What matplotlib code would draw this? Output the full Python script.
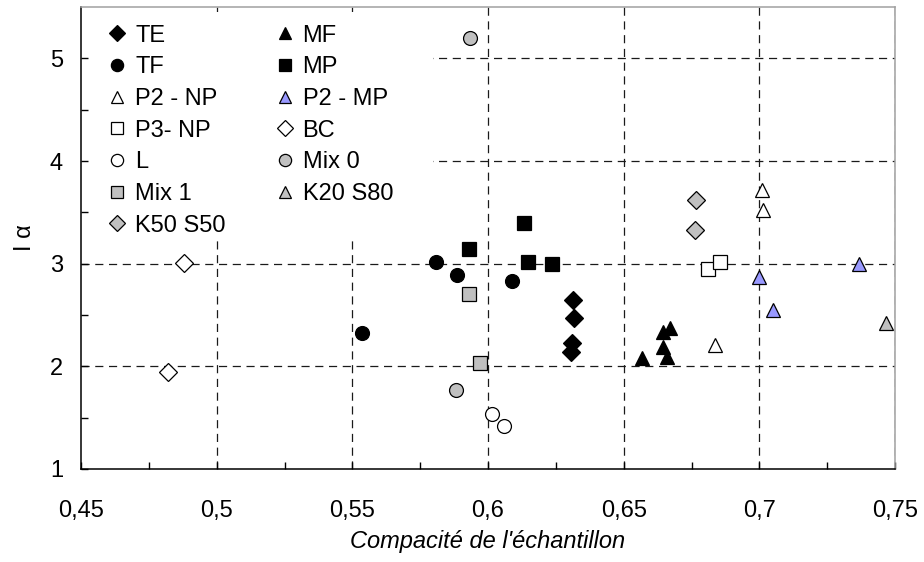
import matplotlib
matplotlib.use("Agg")
import matplotlib.pyplot as plt
from matplotlib.patches import Rectangle

plt.rcParams['font.family'] = ['Liberation Sans', 'DejaVu Sans']

# ---- data ----
te_x = [0.6312, 0.6318, 0.6309, 0.6304]
te_y = [2.65, 2.47, 2.23, 2.14]
tf_x = [0.5809, 0.5887, 0.6090, 0.5536]
tf_y = [3.02, 2.89, 2.835, 2.32]
mf_x = [0.6566, 0.6646, 0.6670, 0.6646, 0.6659]
mf_y = [2.08, 2.33, 2.37, 2.19, 2.09]
mp_x = [0.5930, 0.6134, 0.6146, 0.6234]
mp_y = [3.14, 3.40, 3.02, 3.00]
p2np_x = [0.7010, 0.7012, 0.6837]
p2np_y = [3.72, 3.52, 2.21]
p2mp_x = [0.6999, 0.7366, 0.7049]
p2mp_y = [2.87, 3.00, 2.55]
p3np_x = [0.6810, 0.6855]
p3np_y = [2.95, 3.02]
bc_x = [0.4822, 0.4880]
bc_y = [1.94, 3.01]
l_x = [0.6016, 0.6059]
l_y = [1.54, 1.42]
mix0_x = [0.5934, 0.5883]
mix0_y = [5.20, 1.77]
mix1_x = [0.5931, 0.5970]
mix1_y = [2.70, 2.03]
k20_x = [0.7465]
k20_y = [2.42]
k50_x = [0.6766, 0.6763]
k50_y = [3.62, 3.33]

x_ticks = [0.45, 0.5, 0.55, 0.6, 0.65, 0.7, 0.75]
x_tick_labels = ['0,45', '0,5', '0,55', '0,6', '0,65', '0,7', '0,75']
y_ticks = [1, 2, 3, 4, 5]
y_tick_labels = ['1', '2', '3', '4', '5']

GRAY = '#c0c0c0'
BLUE = '#9999ff'

fig = plt.figure(figsize=(9.24, 5.62), dpi=100)
ax = fig.add_axes([0.0877, 0.1655, 0.881, 0.822])

ax.set_xlim(0.45, 0.75)
ax.set_ylim(1, 5.5)

# dashed grid drawn under a white box that hosts the legend
for v in x_ticks[1:]:
    ax.axvline(v, color='#1a1a1a', lw=0.9, ls=(0, (6.5, 4.5)), zorder=0.5)
for v in y_ticks[1:]:
    ax.axhline(v, color='#1a1a1a', lw=0.9, ls=(0, (6.5, 4.5)), zorder=0.5)
ax.add_patch(Rectangle((0.0, 0.5), 0.432, 0.489, transform=ax.transAxes,
                       facecolor='white', edgecolor='none', zorder=1))

series = [
    ('TE', te_x, te_y, 'D', 'black', 9.3),
    ('TF', tf_x, tf_y, 'o', 'black', 10),
    ('P2 - NP', p2np_x, p2np_y, '^', 'white', 9.5),
    ('P3- NP', p3np_x, p3np_y, 's', 'white', 10),
    ('L', l_x, l_y, 'o', 'white', 10),
    ('Mix 1', mix1_x, mix1_y, 's', GRAY, 10),
    ('K50 S50', k50_x, k50_y, 'D', GRAY, 9.3),
    ('MF', mf_x, mf_y, '^', 'black', 9.5),
    ('MP', mp_x, mp_y, 's', 'black', 10),
    ('P2 - MP', p2mp_x, p2mp_y, '^', BLUE, 9.5),
    ('BC', bc_x, bc_y, 'D', 'white', 9.3),
    ('Mix 0', mix0_x, mix0_y, 'o', GRAY, 10),
    ('K20 S80', k20_x, k20_y, '^', GRAY, 9.5),
]
handles = []
for name, xs, ys, m, fc, ms in series:
    h, = ax.plot(xs, ys, ls='none', marker=m, markersize=ms,
                 markerfacecolor=fc, markeredgecolor='black',
                 markeredgewidth=0.9, label=name, zorder=3)
    handles.append(h)

leg = ax.legend(handles=handles, ncol=2, loc='upper left',
                bbox_to_anchor=(0.0327, 0.962), frameon=False,
                borderpad=0, borderaxespad=0, fontsize=17,
                handlelength=0.8, handletextpad=0.36, columnspacing=2.1,
                labelspacing=0.41, markerscale=0.88)
leg.set_zorder(4)

ax.set_xticks(x_ticks)
ax.set_xticklabels(x_tick_labels)
ax.set_yticks(y_ticks)
ax.set_yticklabels(y_tick_labels)
ax.set_xticks([0.475, 0.525, 0.575, 0.625, 0.675, 0.725], minor=True)
ax.set_yticks([1.5, 2.5, 3.5, 4.5], minor=True)
ax.tick_params(which='both', direction='in', length=5, width=1, colors='black',
               top=False, right=False)
ax.tick_params(axis='x', which='major', labelsize=17, pad=22)
ax.tick_params(axis='y', which='major', labelsize=17, pad=13)

for s in ['left', 'bottom']:
    ax.spines[s].set_color('black')
    ax.spines[s].set_linewidth(1.1)
for s in ['top', 'right']:
    ax.spines[s].set_color('#a0a0a0')
    ax.spines[s].set_linewidth(1.1)

ax.set_xlabel("Compacité de l'échantillon", fontsize=17, style='italic', labelpad=6)
ax.set_ylabel('I α', fontsize=17, labelpad=10)

fig.savefig('out.png', dpi=100)
